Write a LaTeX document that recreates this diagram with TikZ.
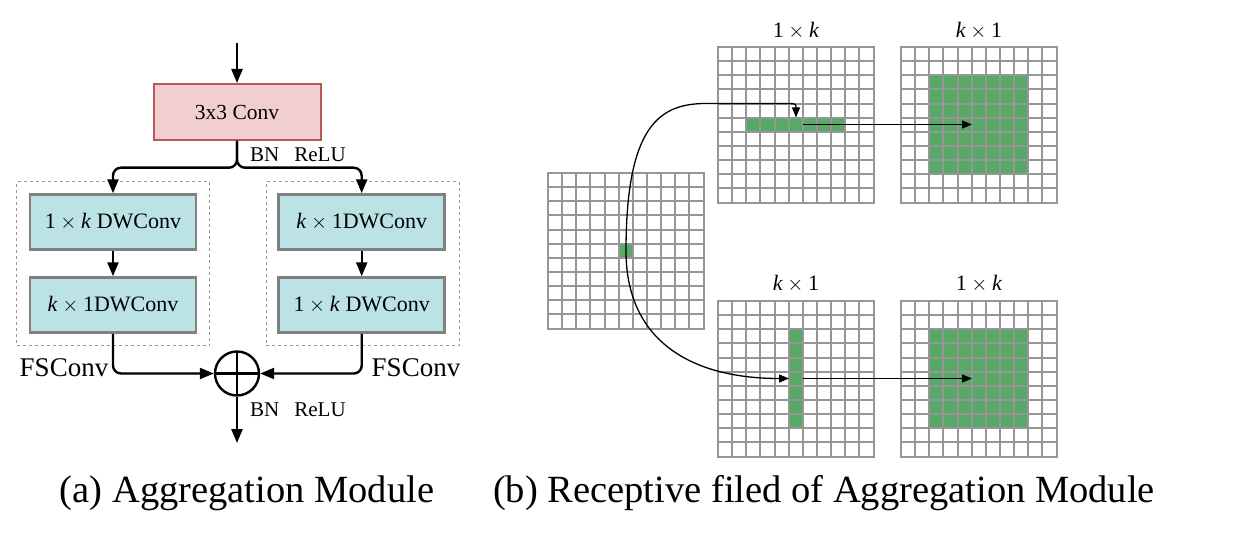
\documentclass[tikz,border=0pt]{standalone}
\usepackage{fontspec}
\setmainfont{Liberation Serif}
\usetikzlibrary{arrows.meta}

\definecolor{convfill}{RGB}{242,207,206}
\definecolor{convdraw}{RGB}{184,88,84}
\definecolor{dwfill}{RGB}{187,226,228}
\definecolor{dwdraw}{RGB}{128,128,128}
\definecolor{cellgreen}{RGB}{88,168,104}
\definecolor{gridgray}{RGB}{150,150,150}
\definecolor{fsgray}{RGB}{150,150,150}

% italic k and a multiplication sign with binary-operator spacing
\newcommand\kk{\textit{k}}
\newcommand\by{${}\times{}$}
% cell size of the feature-map grids
\def\cs{14.15}

% 11 x 11 grid of cells with its top-left corner at (#1,#2);
% line positions are rounded to whole points so every line is equally crisp
\newcommand\cellgrid[2]{%
  \begin{scope}[shift={(#1,#2)}]
    \foreach \i in {0,...,11}{
      \pgfmathsetmacro\p{round(\i*\cs)}
      \draw[gridline] (\p,0) -- (\p,156);
      \draw[gridline] (0,\p) -- (156,\p);
    }
  \end{scope}}
% green block of cells, columns #3..#4 and rows #5..#6 of the grid at (#1,#2)
\newcommand\cellblock[6]{%
  \pgfmathsetmacro\xa{#1+round(#3*\cs)}
  \pgfmathsetmacro\xb{#1+round((#4+1)*\cs)}
  \pgfmathsetmacro\ya{#2+round(#5*\cs)}
  \pgfmathsetmacro\yb{#2+round((#6+1)*\cs)}
  \fill[cellgreen] (\xa,\ya) rectangle (\xb,\yb);}

\tikzset{
  gridline/.style={draw=gridgray, line width=2pt, line cap=rect},
  flow/.style={line width=2.4pt, rounded corners=8pt, -{Triangle[length=14pt,width=11pt]}},
  field/.style={line width=1.3pt, -{Triangle[length=10pt,width=8pt]}},
  convbox/.style={draw=convdraw, fill=convfill, line width=2pt, minimum width=167pt,
    minimum height=56pt, inner sep=0pt, font=\fontsize{21.5}{25}\selectfont},
  dwbox/.style={draw=dwdraw, fill=dwfill, line width=2.5pt, minimum width=166pt,
    minimum height=55pt, inner sep=0pt, font=\fontsize{22}{26}\selectfont},
  fsframe/.style={draw=fsgray, dash pattern=on 3pt off 3pt, line width=1pt,
    minimum width=193pt, minimum height=164pt, inner sep=0pt},
  sumnode/.style={circle, draw, line width=2.4pt, minimum size=44pt, inner sep=0pt,
    path picture={\draw[line width=2.4pt]
      (path picture bounding box.north) -- (path picture bounding box.south)
      (path picture bounding box.west) -- (path picture bounding box.east);}},
  note/.style={font=\fontsize{21}{25}\selectfont, inner sep=0pt},
  fslabel/.style={font=\fontsize{27}{31}\selectfont, inner sep=0pt},
  gridlabel/.style={font=\fontsize{22}{26}\selectfont, inner sep=0pt},
  caption/.style={font=\fontsize{38.5}{44}\selectfont, inner sep=0pt},
}

\begin{document}
\begin{tikzpicture}[x=1pt, y=-1pt]
  \useasboundingbox (0,0) rectangle (1238,540);

  % ---------- (a) aggregation module ----------
  \node[fsframe] (fsl) at (113.3,263.8) {};
  \node[fsframe] (fsr) at (362.5,263.8) {};

  \coordinate (in) at (237,43);
  \node[convbox] (conv) at (237,112) {3x3 Conv};
  \node[dwbox] (l1) at (113,222) {1\by\kk\ DWConv};
  \node[dwbox] (l2) at (113,305) {\kk\by 1DWConv};
  \node[dwbox] (r1) at (361.7,222) {\kk\by 1DWConv};
  \node[dwbox] (r2) at (361.7,305) {1\by\kk\ DWConv};
  \node[sumnode] (sum) at (237,373.5) {};
  \coordinate (out) at (237,443);

  \draw[flow] (in) -- (conv.north);
  \draw[flow] (conv.south) -- ++(0,26.7) -| (l1.north);
  \draw[flow] (conv.south) -- ++(0,26.7) -| (r1.north);
  \draw[flow] (l1.south) -- (l2.north);
  \draw[flow] (r1.south) -- (r2.north);
  \draw[flow] (l2.south) |- (sum.west);
  \draw[flow] (r2.south) |- (sum.east);
  \draw[flow] (sum.south) -- (out);

  \node[note, anchor=west] (bn1) at (250,155) {BN\hspace{15pt}ReLU};
  \node[note, anchor=west] (bn2) at (250,410) {BN\hspace{15pt}ReLU};
  \node[fslabel] (fsll) at (64,368) {FSConv};
  \node[fslabel] (fsrl) at (416,368) {FSConv};

  \node[caption] (capa) at (247,493) {(a) Aggregation Module};

  % ---------- (b) receptive field ----------
  % green cells
  \cellblock{548}{173}{5}{5}{5}{5}
  \cellblock{718}{47}{2}{8}{5}{5}
  \cellblock{901}{47}{2}{8}{2}{8}
  \cellblock{718}{301}{5}{5}{2}{8}
  \cellblock{901}{301}{2}{8}{2}{8}
  % grids
  \cellgrid{548}{173}
  \cellgrid{718}{47}
  \cellgrid{901}{47}
  \cellgrid{718}{301}
  \cellgrid{901}{301}

  \node[gridlabel] (ga) at (796,31) {1\by\kk};
  \node[gridlabel] (gb) at (979,31) {\kk\by 1};
  \node[gridlabel] (gc) at (796,284) {\kk\by 1};
  \node[gridlabel] (gd) at (979,284) {1\by\kk};

  \coordinate (src) at (626,251);
  \coordinate (rowtop) at (796,117.5);
  \coordinate (rowend) at (803,124.5);
  \coordinate (sqtop) at (972,124.5);
  \coordinate (colleft) at (789,378.5);
  \coordinate (colend) at (803,378.5);
  \coordinate (sqbot) at (972,378.5);

  \draw[field] (src) .. controls (626,125) and (660,103.5) .. (706,103.5)
    -- (783,103.5) .. controls (796,103.5) .. (rowtop);
  \draw[field] (src) .. controls (626,340) and (690,378.5) .. (colleft);
  \draw[field] (rowend) -- (sqtop);
  \draw[field] (colend) -- (sqbot);

  \node[caption] (capb) at (824,493) {(b) Receptive filed of Aggregation Module};
\end{tikzpicture}
\end{document}
